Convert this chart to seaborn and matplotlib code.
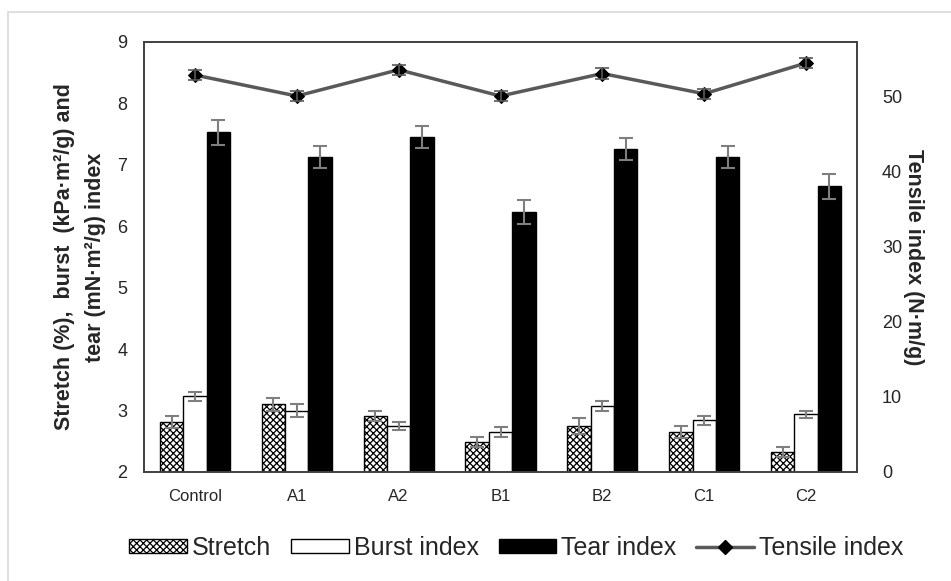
import numpy as np
import pandas as pd
import matplotlib.pyplot as plt
import seaborn as sns
from matplotlib.patches import Patch, Rectangle
from matplotlib.lines import Line2D

# values
samples = ["Control", "A1", "A2", "B1", "B2", "C1", "C2"]
stretch = [2.81, 3.10, 2.91, 2.49, 2.75, 2.65, 2.32]
stretch_err = [0.10, 0.10, 0.08, 0.08, 0.13, 0.10, 0.08]
burst = [3.23, 3.00, 2.75, 2.65, 3.07, 2.84, 2.94]
burst_err = [0.07, 0.10, 0.06, 0.08, 0.08, 0.07, 0.06]
tear = [7.53, 7.13, 7.45, 6.23, 7.26, 7.13, 6.65]
tear_err = [0.20, 0.18, 0.18, 0.19, 0.18, 0.18, 0.20]
tensile = [52.9, 50.1, 53.6, 50.1, 53.1, 50.4, 54.5]
tensile_err = [0.7, 0.7, 0.7, 0.7, 0.7, 0.7, 0.7]

props = ["Stretch", "Burst index", "Tear index"]
values = {"Stretch": stretch, "Burst index": burst, "Tear index": tear}
errors = {"Stretch": stretch_err, "Burst index": burst_err, "Tear index": tear_err}

df = pd.DataFrame({
    "sample": samples * 3,
    "prop": [p for p in props for _ in samples],
    "value": stretch + burst + tear,
})

sns.set_style("white")
plt.rcParams["font.family"] = ["Liberation Sans", "DejaVu Sans"]
plt.rcParams["hatch.linewidth"] = 0.9

fig = plt.figure(figsize=(9.51, 5.81), dpi=100)
ax = fig.add_axes([144 / 951, 1 - 472 / 581, (857 - 144) / 951, (472 - 42) / 581])

# light frame around the whole chart area
fig.patches.append(Rectangle((8 / 951, -0.1), 1.2, 1 - 12 / 581 + 0.1,
                             transform=fig.transFigure, fill=False,
                             edgecolor="#d9d9d9", linewidth=1.2))

sns.barplot(data=df, x="sample", y="value", hue="prop", hue_order=props,
            palette=["white", "white", "black"], edgecolor="black", linewidth=1,
            width=0.69, errorbar=None, legend=False, ax=ax)

for cont, p in zip(ax.containers, props):
    xs = []
    for bar in cont:
        if p == "Stretch":
            bar.set_hatch("xxxxx")
        xs.append(bar.get_x() + bar.get_width() / 2)
    ax.errorbar(xs, values[p], yerr=errors[p], fmt="none", ecolor="#7f7f7f",
                elinewidth=1.5, capsize=5, capthick=1.5, zorder=5)

ax.set_ylim(2, 9)
ax.set_xlim(-0.5, 6.5)
ax.set_xlabel("")
ax.set_ylabel("Stretch (%),  burst  (kPa·m²/g) and\ntear (mN·m²/g) index",
              fontsize=15.5, fontweight="bold", labelpad=8, linespacing=1.65)
ax.tick_params(axis="y", length=0, pad=12, labelsize=13, labelcolor="#262626")
ax.tick_params(axis="x", length=0, pad=12, labelsize=12, labelcolor="#262626")

ax2 = ax.twinx()
x_pos = np.arange(len(samples))
sns.lineplot(x=x_pos, y=tensile, ax=ax2, color="#595959", linewidth=2.5,
             marker="D", markersize=7, markerfacecolor="black",
             markeredgecolor="black")
ax2.errorbar(x_pos, tensile, yerr=tensile_err, fmt="none", ecolor="#595959",
             elinewidth=1.2, capsize=5, capthick=1.2)
ax2.set_ylim(0, 57.3)
ax2.set_yticks(range(0, 60, 10))
ax2.set_ylabel("Tensile index (N·m/g)", rotation=270, fontsize=15.5,
               fontweight="bold", labelpad=16)
ax2.tick_params(axis="y", length=0, pad=18, labelsize=13, labelcolor="#262626")

for a in (ax, ax2):
    for s in a.spines.values():
        s.set_visible(True)
        s.set_color("#404040")
        s.set_linewidth(1.2)

handles = [
    Patch(facecolor="white", edgecolor="black", hatch="xxxxx", label="Stretch"),
    Patch(facecolor="white", edgecolor="black", label="Burst index"),
    Patch(facecolor="black", edgecolor="black", label="Tear index"),
    Line2D([], [], color="#595959", linewidth=2.5, marker="D", markersize=7,
           markerfacecolor="black", markeredgecolor="black", label="Tensile index"),
]
fig.legend(handles=handles, loc="center", bbox_to_anchor=(0.543, 0.057), ncol=4,
           frameon=False, handlelength=2.3, handleheight=0.5,
           columnspacing=0.8, handletextpad=0.2, prop={"size": 18})

fig.savefig("out.png", dpi=100)
